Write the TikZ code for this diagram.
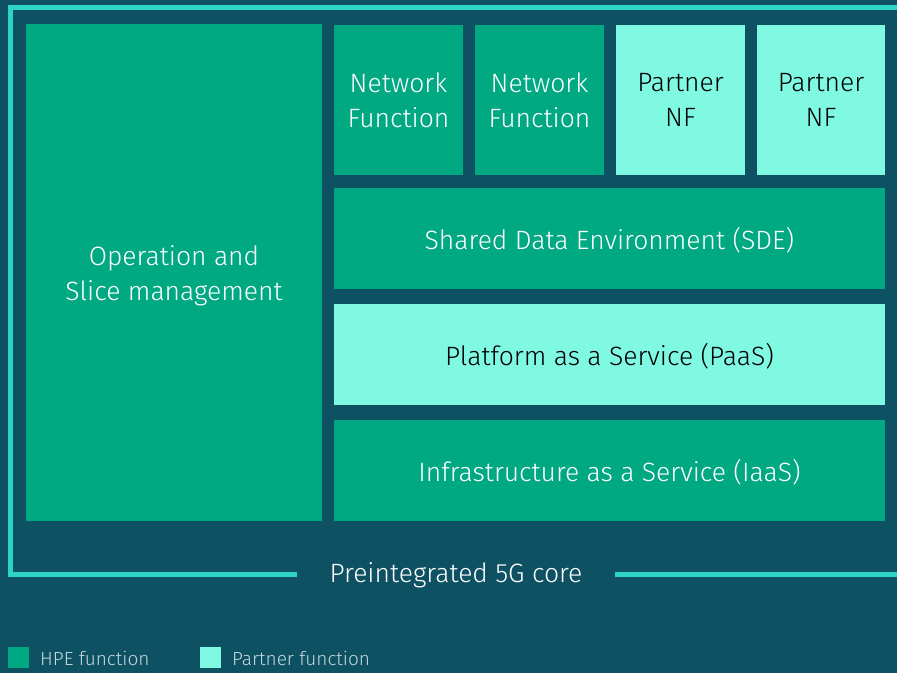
\documentclass[tikz,border=0pt]{standalone}
\usepackage{fontspec}
\setmainfont{Fira Sans Light}
\definecolor{bgc}{RGB}{14,81,99}
\definecolor{framec}{RGB}{45,212,197}
\definecolor{hpeg}{RGB}{1,169,130}
\definecolor{partg}{RGB}{127,249,226}
\definecolor{legtext}{RGB}{196,214,220}
\tikzset{
  hpebox/.style={rectangle, fill=hpeg, inner sep=0pt},
  partbox/.style={rectangle, fill=partg, inner sep=0pt},
  wtxt/.style={inner sep=0pt, align=center, text=white, font=\fontsize{26.5}{35}\selectfont, yshift=-2pt},
  btxt/.style={inner sep=0pt, align=center, text=black, font=\fontsize{26.5}{35}\selectfont, yshift=-2pt},
  frameline/.style={draw=framec, line width=5pt},
  legsq/.style={rectangle, inner sep=0pt, minimum width=21pt, minimum height=21pt},
  legtxt/.style={anchor=west, inner sep=0pt, text=legtext, font=\fontsize{19}{22}\selectfont},
}
\begin{document}
\begin{tikzpicture}[x=1pt,y=-1pt]
\fill[bgc] (0,0) rectangle (897,673);
\useasboundingbox (0,0) rectangle (897,673);
% frame
\coordinate (fl) at (297,574);
\coordinate (fbl) at (10.5,574);
\coordinate (ftl) at (10.5,7.5);
\coordinate (ftr) at (897,7.5);
\coordinate (frs) at (615,574);
\coordinate (fre) at (897,574);
\draw[frameline] (fl) -- (fbl) -- (ftl) -- (ftr);
\draw[frameline] (frs) -- (fre);
\node[text=white, inner sep=0pt, font=\fontsize{26.5}{30}\selectfont] (core) at (456,575) {Preintegrated 5G core};
% boxes
\node[hpebox, minimum width=296pt, minimum height=497pt, label={[wtxt, yshift=-1pt]center:Operation and\\Slice management}] (ops) at (174,272.5) {};
\node[hpebox, minimum width=129pt, minimum height=150pt, label={[wtxt, yshift=2pt]center:Network\\Function}] (nf1) at (398.5,100) {};
\node[hpebox, minimum width=129pt, minimum height=150pt, label={[wtxt, yshift=2pt]center:Network\\Function}] (nf2) at (539.5,100) {};
\node[partbox, minimum width=129pt, minimum height=150pt, label={[btxt, yshift=2pt]center:Partner\\NF}] (pnf1) at (680.5,100) {};
\node[partbox, minimum width=128pt, minimum height=150pt, label={[btxt, yshift=2pt]center:Partner\\NF}] (pnf2) at (821,100) {};
\node[hpebox, minimum width=551pt, minimum height=101pt, label={[wtxt]center:Shared Data Environment (SDE)}] (sde) at (609.5,238.5) {};
\node[partbox, minimum width=551pt, minimum height=101pt, label={[btxt]center:Platform as a Service (PaaS)}] (paas) at (609.5,354.5) {};
\node[hpebox, minimum width=551pt, minimum height=101pt, label={[wtxt]center:Infrastructure as a Service (IaaS)}] (iaas) at (609.5,470.5) {};
% legend
\node[legsq, fill=hpeg] (lhpe) at (18.5,657.5) {};
\node[legtxt] (lhpet) at (40,658) {HPE function};
\node[legsq, fill=partg] (lpart) at (210.5,657.5) {};
\node[legtxt] (lpartt) at (232,658) {Partner function};
\end{tikzpicture}
\end{document}
